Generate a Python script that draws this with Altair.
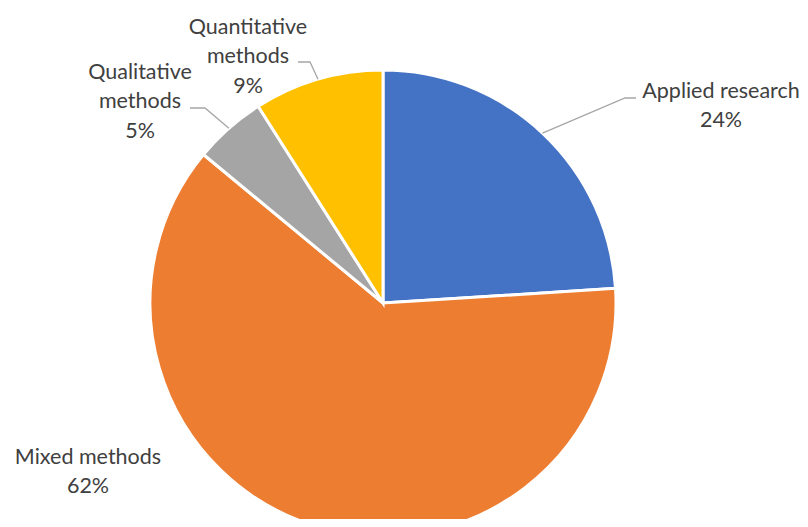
import math
import altair as alt
import pandas as pd

# ---- data ----
categories = ["Applied research", "Mixed methods", "Qualitative methods", "Quantitative methods"]
values = [24, 62, 5, 9]
label_lines = [["Applied research"], ["Mixed methods"], ["Qualitative", "methods"], ["Quantitative", "methods"]]
colors = ["#4472C4", "#ED7D31", "#A5A5A5", "#FFC000"]

# ---- layout (chart coordinates) ----
W, H = 792, 511
CX, CY, R = 375, 295, 233
label_x = [713, 80, 132, 240]
label_y = [83.5, 449.5, 64.5, 19.5]   # centre of first text line
# elbow / end points of leader lines (None = no leader)
elbow = [(617, 90), None, (197, 100), (302, 54)]
lead_end = [(628, 90), None, (182, 100), (290, 54)]

total = sum(values)
df = pd.DataFrame({"category": categories, "value": values, "order": list(range(len(values)))})

texts = []
for lines, v in zip(label_lines, values):
    texts.append("\n".join(lines + [f"{v}%"]))
lab = pd.DataFrame({"category": categories, "text": texts, "lx": label_x, "ly": label_y})

rows = []
cum = 0
for i, v in enumerate(values):
    mid = (cum + v / 2) / total * 2 * math.pi
    cum += v
    if elbow[i] is None:
        continue
    sx = CX + R * math.sin(mid)
    sy = CY - R * math.cos(mid)
    pts = [(sx, sy), elbow[i], lead_end[i]]
    for k, (px, py) in enumerate(pts):
        rows.append({"id": categories[i], "k": k, "px": px, "py": py})
lead = pd.DataFrame(rows)

arc = alt.Chart(df).mark_arc(stroke="white", strokeWidth=3).encode(
    theta=alt.Theta("value:Q", stack=True),
    color=alt.Color("category:N", scale=alt.Scale(domain=categories, range=colors), legend=None),
    order=alt.Order("order:Q"),
    x=alt.value(CX),
    y=alt.value(CY),
    radius=alt.value(R),
)

lines = alt.Chart(lead).mark_line(color="#A6A6A6", strokeWidth=1.3).encode(
    x=alt.X("px:Q", scale=None),
    y=alt.Y("py:Q", scale=None),
    detail="id:N",
    order="k:Q",
)

text = alt.Chart(lab).mark_text(
    font="Lato", fontSize=21.5, color="#404040", lineBreak="\n", lineHeight=29.5,
    align="center", baseline="middle",
).encode(
    x=alt.X("lx:Q", scale=None),
    y=alt.Y("ly:Q", scale=None),
    text="text:N",
)

chart = alt.layer(arc, lines, text).properties(
    width=W, height=H, autosize=alt.AutoSizeParams(type="none"), padding=0
).configure_view(stroke=None)

chart.save("out.html", embed_options={"renderer": "svg", "actions": False})
